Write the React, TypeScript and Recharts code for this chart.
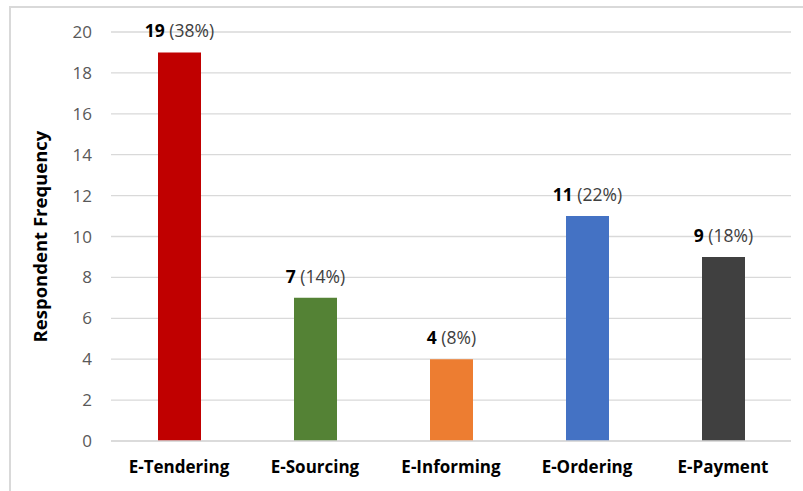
import React from "react";
import { BarChart, Bar, XAxis, YAxis, CartesianGrid, Cell, LabelList } from "recharts";

const categories = ["E-Tendering", "E-Sourcing", "E-Informing", "E-Ordering", "E-Payment"];
const frequencies = [19, 7, 4, 11, 9];
const percents = [38, 14, 8, 22, 18];
const colors = ["#C00000", "#548235", "#ED7D31", "#4472C4", "#404040"];
const yTicks = [0, 2, 4, 6, 8, 10, 12, 14, 16, 18, 20];

const data = categories.map((c, i) => ({ name: c, value: frequencies[i], pct: percents[i] }));

const FONT = "'Open Sans', sans-serif";

const BarLabel = (props: any) => {
  const { x, y, width, index } = props;
  const d = data[index];
  return (
    <text
      x={x + width / 2}
      y={y - 15}
      textAnchor="middle"
      fontFamily={FONT}
      fontSize={17.5}
      fill="#404040"
    >
      <tspan fontWeight="bold" fill="#000000">{d.value}</tspan>
      <tspan>{` (${d.pct}%)`}</tspan>
    </text>
  );
};

export default function App() {
  return (
    <div style={{ position: "absolute", left: 0, top: 0, width: 803, height: 491, background: "#fff", overflow: "hidden" }}>
      <div
        style={{
          position: "absolute",
          left: 9,
          top: 6,
          width: 800,
          height: 500,
          borderTop: "2px solid #d9d9d9",
          borderLeft: "2px solid #d9d9d9",
          boxSizing: "border-box",
        }}
      />
      <div style={{ position: "absolute", left: 0, top: 0 }}>
        <BarChart
          width={803}
          height={491}
          data={data}
          margin={{ top: 32, right: 12, bottom: 20, left: 0 }}
          barCategoryGap={0}
        >
          <CartesianGrid vertical={false} stroke="#d9d9d9" strokeWidth={1.3} />
          <XAxis
            dataKey="name"
            height={30}
            axisLine={{ stroke: "#d9d9d9", strokeWidth: 1.3 }}
            tickLine={false}
            tickSize={0}
            tickMargin={20}
            tick={{ fill: "#000000", fontSize: 17, fontWeight: "bold", fontFamily: FONT }}
            interval={0}
          />
          <YAxis
            width={111}
            domain={[0, 20]}
            ticks={yTicks}
            axisLine={false}
            tickLine={false}
            tickSize={0}
            tickMargin={19}
            tick={{ fill: "#595959", fontSize: 17, fontFamily: FONT }}
            label={{
              value: "Respondent Frequency",
              angle: -90,
              position: "insideLeft",
              offset: 40,
              style: { textAnchor: "middle", fontWeight: "bold", fontSize: 18.5, fill: "#000000", fontFamily: FONT },
            }}
          />
          <Bar dataKey="value" barSize={43} isAnimationActive={false}>
            {data.map((d, i) => (
              <Cell key={d.name} fill={colors[i]} />
            ))}
            <LabelList dataKey="value" content={BarLabel} />
          </Bar>
        </BarChart>
      </div>
    </div>
  );
}
